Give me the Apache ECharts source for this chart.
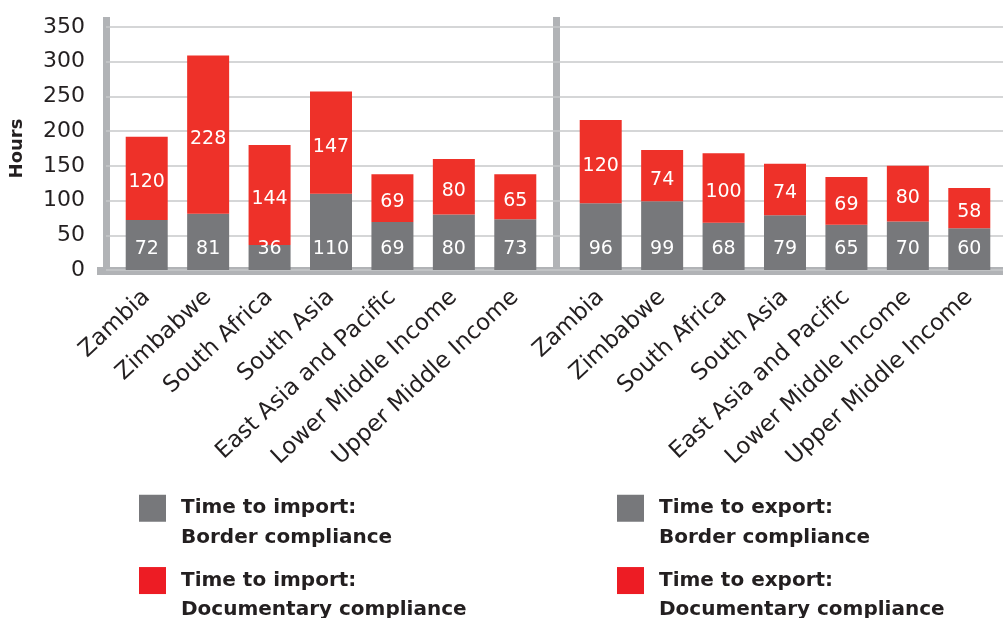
<!DOCTYPE html>
<html>
<head>
<meta charset="utf-8">
<script src="https://cdn.jsdelivr.net/npm/echarts@6/dist/echarts.min.js"></script>
<style>
html,body{margin:0;padding:0;background:#fff;}
#chart{width:1003px;height:618px;}
</style>
</head>
<body>
<div id="chart"></div>
<script>
const categories = ['Zambia', 'Zimbabwe', 'South Africa', 'South Asia', 'East Asia and Pacific', 'Lower Middle Income', 'Upper Middle Income'];
const importBorder = [72, 81, 36, 110, 69, 80, 73];
const importDoc = [120, 228, 144, 147, 69, 80, 65];
const exportBorder = [96, 99, 68, 79, 65, 70, 60];
const exportDoc = [120, 74, 100, 74, 69, 80, 58];
const yTicks = [0, 50, 100, 150, 200, 250, 300, 350];
const seriesNames = [
  'Time to import:\nBorder compliance',
  'Time to import:\nDocumentary compliance',
  'Time to export:\nBorder compliance',
  'Time to export:\nDocumentary compliance'
];

const GRAY = '#77787b';
const RED = '#ee3129';
const LEGEND_RED = '#ed1c24';
const AXIS = '#b1b3b6';
const TEXT = '#231f20';
const FONT = 'DejaVu Sans';

const chart = echarts.init(document.getElementById('chart'));

const gridTop = 27, gridBottom = 618 - 270;
const yMax = yTicks[yTicks.length - 1];

function valueAxis(idx, show) {
  return {
    type: 'value', gridIndex: idx, min: 0, max: yMax, interval: 50,
    axisLine: {show: false}, axisTick: {show: false},
    axisLabel: show ? {color: TEXT, fontFamily: FONT, fontSize: 22, margin: 21} : {show: false},
    splitLine: show ? {show: true, lineStyle: {color: '#c7c8ca', width: 1.5}} : {show: false},
    name: show ? 'Hours' : '',
    nameLocation: 'middle', nameRotate: 90, nameGap: 80,
    nameTextStyle: {color: TEXT, fontFamily: FONT, fontSize: 18, fontWeight: 'bold'}
  };
}
function catAxis(idx) {
  return {
    type: 'category', gridIndex: idx, data: categories,
    axisLine: {show: false}, axisTick: {show: false},
    axisLabel: {rotate: 43, interval: 0, margin: 24, color: TEXT, fontFamily: FONT, fontSize: 23}
  };
}
const labelBottom = {show: true, position: 'insideBottom', distance: 11, color: '#fff', fontFamily: FONT, fontSize: 19};
const labelMid = {show: true, position: 'inside', offset: [0, 4], color: '#fff', fontFamily: FONT, fontSize: 19};

const legendText = {
  color: TEXT, fontFamily: FONT, fontSize: 20, fontWeight: 'bold', lineHeight: 29.5,
  rich: {
    t: {color: TEXT, fontFamily: FONT, fontSize: 20, fontWeight: 'bold', lineHeight: 29.5, padding: [0, 0, 0, 10]}
  }
};
function legendFormatter(name) {
  return '\n' + name.split('\n').map(s => '{t|' + s + '}').join('\n');
}
function legend(left, names) {
  return {
    left: left, top: 464, height: 200, orient: 'vertical', padding: 0,
    itemWidth: 27, itemHeight: 27, itemGap: -16.2,
    icon: 'rect', selectedMode: false,
    data: [
      {name: names[0], itemStyle: {color: GRAY}},
      {name: names[1], itemStyle: {color: LEGEND_RED}}
    ],
    formatter: legendFormatter, textStyle: legendText
  };
}

chart.setOption({
  animation: false,
  grid: [
    {left: 106, right: 0, top: gridTop, bottom: gridBottom},
    {left: 116, width: 430, top: gridTop, bottom: gridBottom},
    {left: 570, width: 430, top: gridTop, bottom: gridBottom}
  ],
  xAxis: [
    {type: 'category', gridIndex: 0, data: [], show: false},
    catAxis(1),
    catAxis(2)
  ],
  yAxis: [valueAxis(0, true), valueAxis(1, false), valueAxis(2, false)],
  legend: [
    legend(139, [seriesNames[0], seriesNames[1]]),
    legend(617, [seriesNames[2], seriesNames[3]])
  ],
  graphic: [
    {type: 'rect', z: 0, shape: {x: 97, y: 267, width: 906, height: 8}, style: {fill: AXIS}},
    {type: 'rect', z: 0, shape: {x: 103, y: 17, width: 7, height: 258}, style: {fill: AXIS}},
    {type: 'rect', z: 0, shape: {x: 553, y: 17, width: 7, height: 254}, style: {fill: AXIS}}
  ],
  series: [
    {name: seriesNames[0], type: 'bar', xAxisIndex: 1, yAxisIndex: 1, stack: 'imp', barWidth: 42,
     data: importBorder, itemStyle: {color: GRAY}, label: labelBottom, z: 3},
    {name: seriesNames[1], type: 'bar', xAxisIndex: 1, yAxisIndex: 1, stack: 'imp', barWidth: 42,
     data: importDoc, itemStyle: {color: RED}, label: labelMid, z: 3},
    {name: seriesNames[2], type: 'bar', xAxisIndex: 2, yAxisIndex: 2, stack: 'exp', barWidth: 42,
     data: exportBorder, itemStyle: {color: GRAY}, label: labelBottom, z: 3},
    {name: seriesNames[3], type: 'bar', xAxisIndex: 2, yAxisIndex: 2, stack: 'exp', barWidth: 42,
     data: exportDoc, itemStyle: {color: RED}, label: labelMid, z: 3}
  ]
});
</script>
</body>
</html>
